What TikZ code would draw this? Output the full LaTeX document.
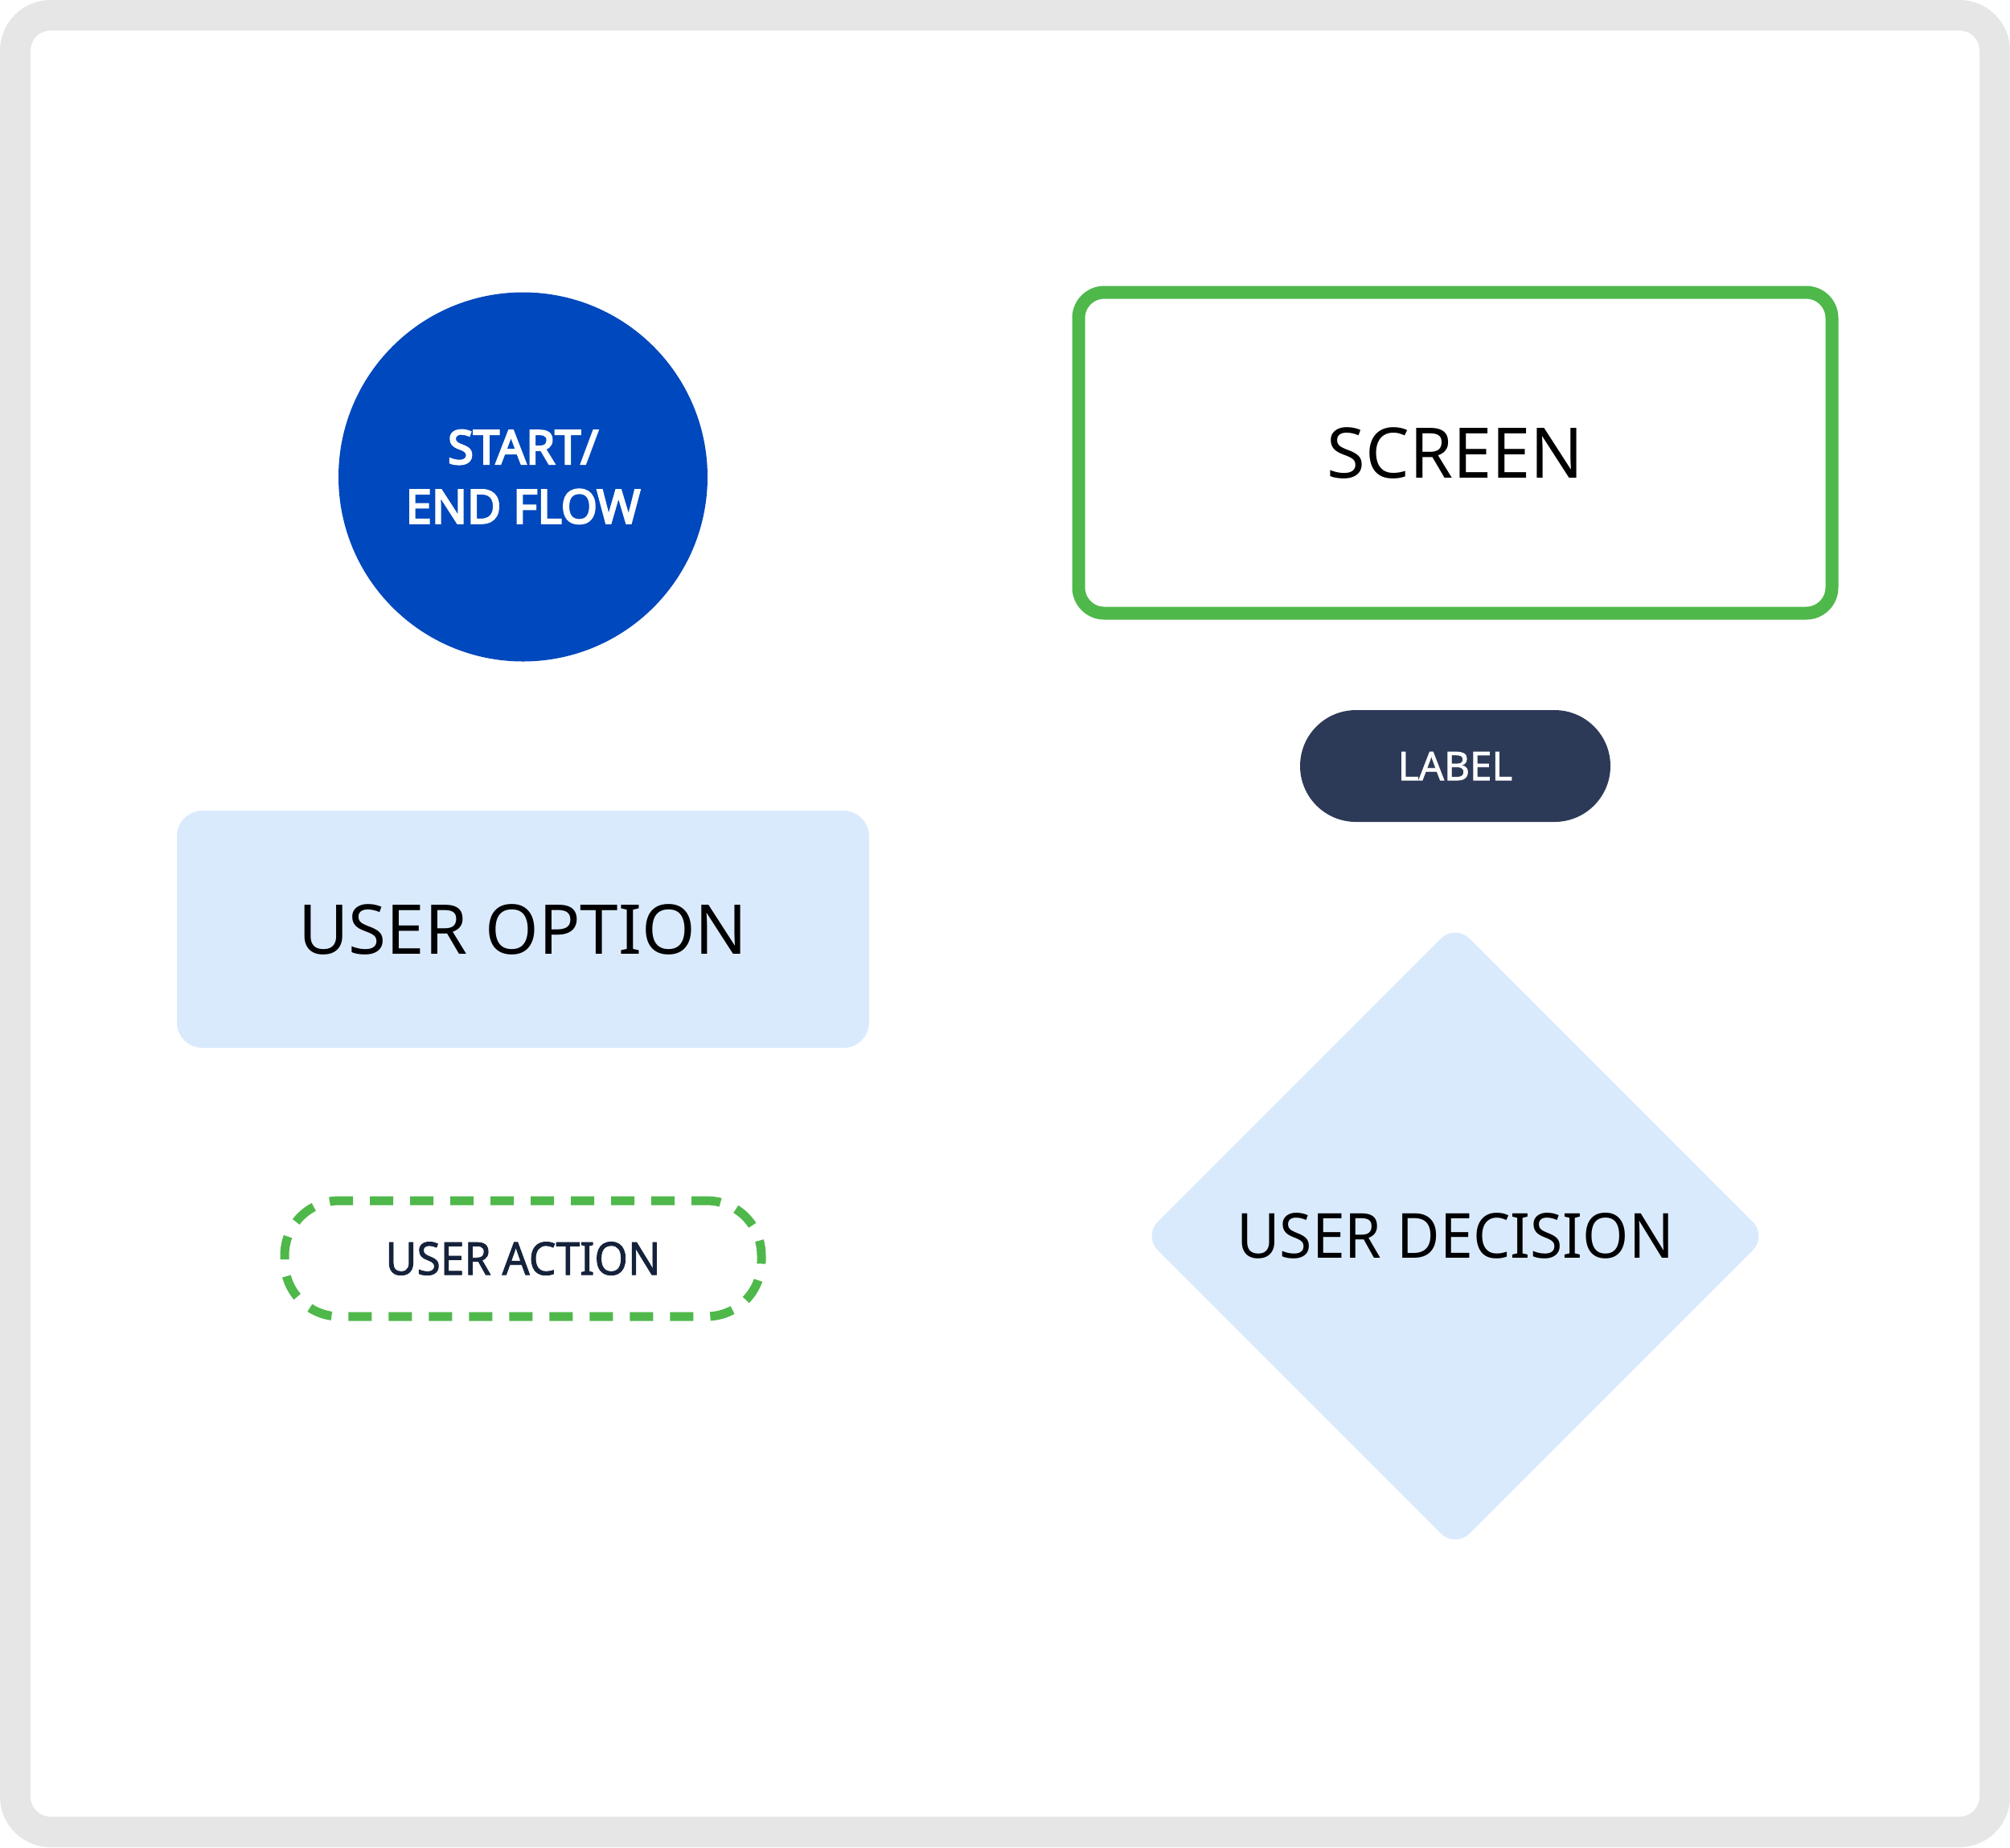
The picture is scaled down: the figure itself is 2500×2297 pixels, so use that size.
\documentclass[tikz,border=0pt]{standalone}
\usepackage{fontspec}
\setmainfont{Noto Sans}
\newfontfamily\medfont[FakeBold=1.5]{Noto Sans}
\newfontfamily\heavyfont[FakeBold=4.2]{Noto Sans}
\newfontfamily\actionfont[FakeBold=1.5, FakeStretch=0.95]{Noto Sans}
\newfontfamily\decisionfont[FakeStretch=0.95]{Noto Sans}
\usetikzlibrary{shapes.geometric}
\definecolor{framegray}{HTML}{E6E6E6}
\definecolor{startblue}{HTML}{0048BD}
\definecolor{screengreen}{HTML}{4FB84B}
\definecolor{optionblue}{HTML}{DAEAFD}
\definecolor{labelnavy}{HTML}{2D3A57}
\definecolor{actiontext}{HTML}{15223B}
\tikzset{
  startnode/.style={circle, fill=startblue, minimum size=45.9mm, inner sep=0pt, text=white, align=center,
    font=\heavyfont\fontsize{16.5}{21}\selectfont},
  screennode/.style={rectangle, draw=screengreen, line width=1.6mm, rounded corners=3.2mm, fill=white,
    minimum width=93.7mm, minimum height=39.9mm, inner sep=0pt, font=\fontsize{24.7}{28}\selectfont},
  labelnode/.style={rectangle, fill=labelnavy, rounded corners=6.95mm, minimum width=38.6mm, minimum height=13.9mm,
    inner sep=0pt, text=white, font=\medfont\fontsize{14}{16}\selectfont},
  optionnode/.style={rectangle, fill=optionblue, rounded corners=3.2mm, minimum width=86.1mm, minimum height=29.5mm,
    inner sep=0pt, font=\fontsize{24.3}{28}\selectfont},
  actionnode/.style={rectangle, draw=screengreen, line width=1.1mm, rounded corners=6.8mm, dash pattern=on 2.9mm off 2.1mm,
    dash phase=1mm, minimum width=59.3mm, minimum height=14.4mm, inner sep=0pt, text=actiontext,
    font=\actionfont\fontsize{16}{18}\selectfont},
  decisionnode/.style={diamond, aspect=1, fill=optionblue, rounded corners=2.5mm, minimum width=77.6mm, minimum height=77.6mm,
    inner sep=0pt, font=\decisionfont\fontsize{22}{26}\selectfont}
}
\begin{document}
\begin{tikzpicture}[x=0.1mm,y=-0.1mm]
\useasboundingbox (0,0) rectangle (2500,2297);
\fill[framegray, rounded corners=6.3mm] (0,0) rectangle (2500,2297);
\fill[white, rounded corners=2.5mm] (38,38) rectangle (2462,2259);
\node[startnode] (start) at (650.5,593) {START/\\END FLOW};
\node[screennode] (screen) at (1810,563) {SCREEN};
\node[labelnode] (label) at (1810,952.5) {LABEL};
\node[optionnode] (option) at (650.5,1155.5) {USER OPTION};
\node[actionnode] (action) at (650.5,1565) {USER ACTION};
\node[decisionnode] (decision) at (1810,1537) {USER DECISION};
\end{tikzpicture}
\end{document}
